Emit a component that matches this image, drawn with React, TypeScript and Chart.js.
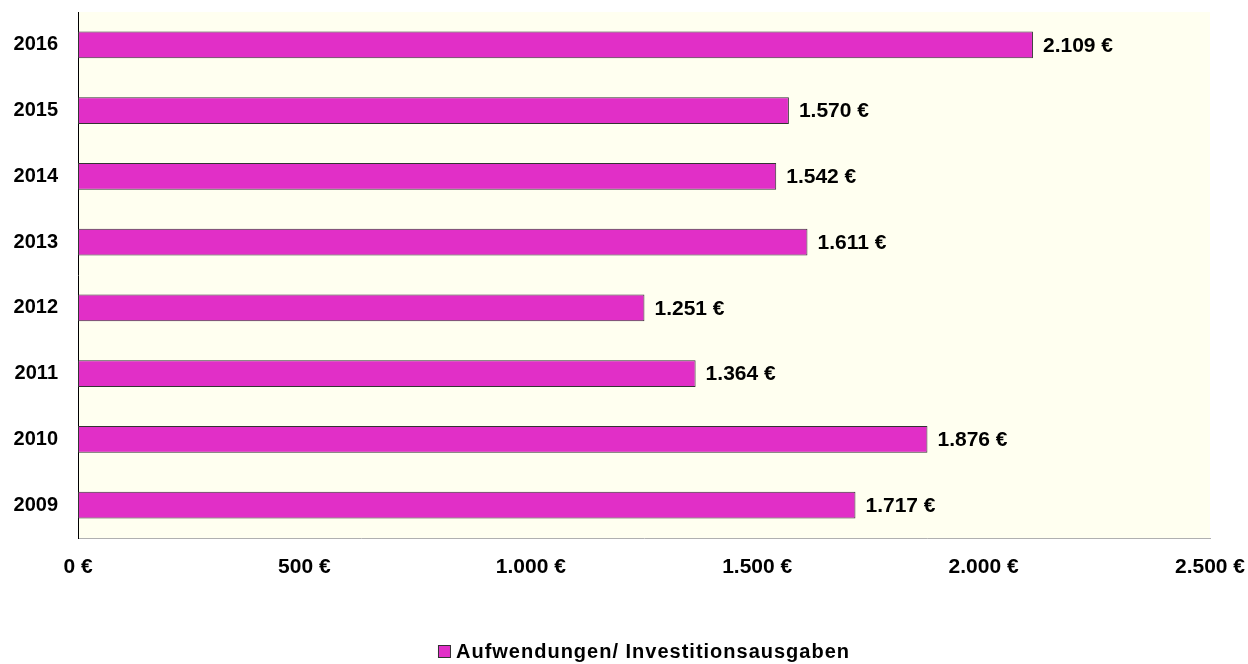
import React, { useEffect, useRef } from "react";
import { Chart, registerables } from "chart.js";

Chart.register(...registerables);

const years = ["2009", "2010", "2011", "2012", "2013", "2014", "2015", "2016"];
const spending = [1717, 1876, 1364, 1251, 1611, 1542, 1570, 2109];
const seriesLabel = "Aufwendungen/ Investitionsausgaben";
const xMin = 0;
const xMax = 2500;
const xStep = 500;

const FONT = '"Liberation Sans", Arial, sans-serif';
const BAR_COLOR = "#E12FC7";

const fmt = (n: number) =>
  String(Math.round(n)).replace(/\B(?=(\d{3})+(?!\d))/g, ".") + " €";

const plotBg = {
  id: "plotBg",
  beforeDraw(chart: any) {
    const { ctx, chartArea } = chart;
    ctx.save();
    ctx.fillStyle = "#FFFFF0";
    ctx.fillRect(chartArea.left, chartArea.top, chartArea.right - chartArea.left, chartArea.bottom - chartArea.top);
    ctx.restore();
  },
};

const valueLabels = {
  id: "valueLabels",
  afterDatasetsDraw(chart: any) {
    const { ctx } = chart;
    const meta = chart.getDatasetMeta(0);
    const data = chart.data.datasets[0].data as number[];
    ctx.save();
    ctx.font = `bold 21px ${FONT}`;
    ctx.fillStyle = "#000";
    ctx.textAlign = "left";
    ctx.textBaseline = "middle";
    meta.data.forEach((bar: any, i: number) => {
      ctx.fillText(fmt(data[i]), bar.x + 10, bar.y + 1);
    });
    ctx.restore();
  },
};

const customLegend = {
  id: "customLegend",
  afterDraw(chart: any) {
    const { ctx, chartArea } = chart;
    ctx.save();
    ctx.font = `bold 20px ${FONT}`;
    (ctx as any).letterSpacing = "1px";
    const text = chart.data.datasets[0].label as string;
    const tw = ctx.measureText(text).width;
    const box = 13;
    const gap = 5;
    const total = box + gap + tw;
    const cx = (chartArea.left + chartArea.right) / 2;
    const x0 = cx - total / 2;
    const cy = 651;
    ctx.fillStyle = BAR_COLOR;
    ctx.fillRect(x0, cy - 6, box, box);
    ctx.strokeStyle = "#333";
    ctx.lineWidth = 1;
    ctx.strokeRect(x0 + 0.5, cy - 5.5, box - 1, box - 1);
    ctx.fillStyle = "#000";
    ctx.textAlign = "left";
    ctx.textBaseline = "middle";
    ctx.fillText(text, x0 + box + gap, cy + 1);
    ctx.restore();
  },
};

export default function App() {
  const ref = useRef<HTMLCanvasElement>(null);

  useEffect(() => {
    if (!ref.current) return;
    const chart = new Chart(ref.current, {
      type: "bar",
      data: {
        labels: years,
        datasets: [
          {
            label: seriesLabel,
            data: spending,
            backgroundColor: BAR_COLOR,
            borderColor: "#333",
            borderWidth: 1,
            borderSkipped: false,
            barPercentage: 0.41,
            categoryPercentage: 1,
          },
        ],
      },
      options: {
        indexAxis: "y",
        responsive: false,
        animation: false,
        layout: { padding: { top: 12, right: 38, left: 0, bottom: 0 } },
        plugins: {
          legend: { display: false },
          tooltip: { enabled: false },
        },
        scales: {
          x: {
            min: xMin,
            max: xMax,
            grid: { display: false, drawTicks: false },
            border: { display: true, color: "#b0b0b0", width: 1 },
            ticks: {
              stepSize: xStep,
              color: "#000",
              font: { family: FONT, size: 21, weight: "bold" },
              padding: 17,
              maxRotation: 0,
              callback: (v: any) => fmt(Number(v)),
            },
            afterFit: (scale: any) => {
              scale.height = 126;
              scale.paddingLeft = 0;
              scale.paddingRight = 0;
            },
          },
          y: {
            reverse: true,
            grid: { display: false, drawTicks: false },
            border: { display: true, color: "#000", width: 1 },
            ticks: {
              color: "#000",
              font: { family: FONT, size: 20, weight: "bold" },
              padding: 20,
            },
            afterFit: (scale: any) => {
              scale.width = 78;
              scale.paddingTop = 0;
              scale.paddingBottom = 0;
            },
          },
        },
      },
      plugins: [plotBg, valueLabels, customLegend],
    });
    return () => chart.destroy();
  }, []);

  return (
    <div style={{ position: "fixed", left: 0, top: 0, width: 1248, height: 664, background: "#fff" }}>
      <canvas ref={ref} width={1248} height={664} style={{ display: "block" }} />
    </div>
  );
}
